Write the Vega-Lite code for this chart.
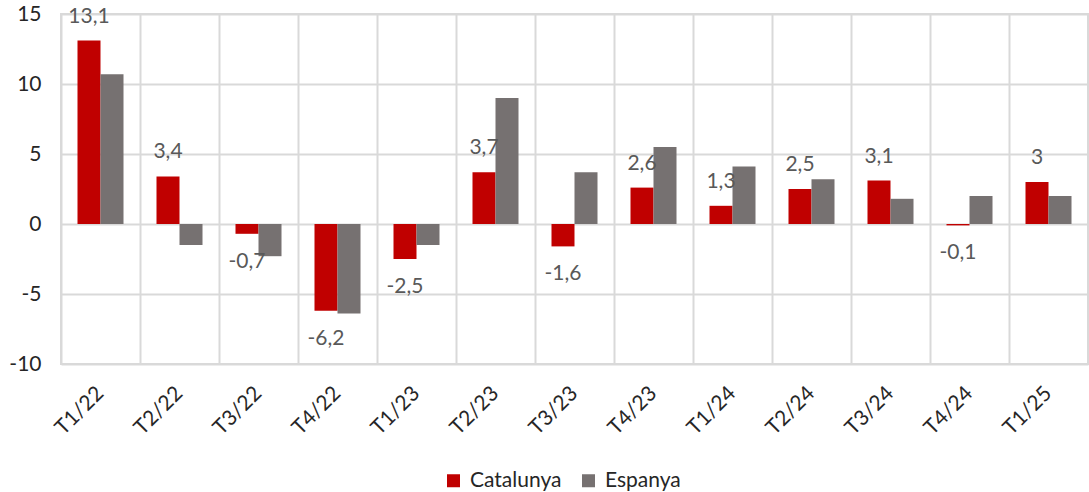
{
  "$schema": "https://vega.github.io/schema/vega-lite/v6.json",
  "width": 1027,
  "height": 350,
  "autosize": {"type": "none"},
  "padding": {"left": 61, "top": 14, "right": 1, "bottom": 128},
  "background": "white",
  "config": {
    "font": "Lato",
    "locale": {"number": {"decimal": ",", "thousands": ".", "grouping": [3], "currency": ["", "€"], "minus": "-"}},
    "view": {"stroke": "#d9d9d9", "strokeWidth": 2},
    "axis": {"gridColor": "#d9d9d9", "gridWidth": 2, "labelFont": "Lato", "labelFontSize": 21, "labelColor": "#262626"}
  },
  "data": {
    "values": [
      {"period": "T1/22", "series": "Catalunya", "value": 13.1},
      {"period": "T1/22", "series": "Espanya", "value": 10.7},
      {"period": "T2/22", "series": "Catalunya", "value": 3.4},
      {"period": "T2/22", "series": "Espanya", "value": -1.5},
      {"period": "T3/22", "series": "Catalunya", "value": -0.7},
      {"period": "T3/22", "series": "Espanya", "value": -2.3},
      {"period": "T4/22", "series": "Catalunya", "value": -6.2},
      {"period": "T4/22", "series": "Espanya", "value": -6.4},
      {"period": "T1/23", "series": "Catalunya", "value": -2.5},
      {"period": "T1/23", "series": "Espanya", "value": -1.5},
      {"period": "T2/23", "series": "Catalunya", "value": 3.7},
      {"period": "T2/23", "series": "Espanya", "value": 9.0},
      {"period": "T3/23", "series": "Catalunya", "value": -1.6},
      {"period": "T3/23", "series": "Espanya", "value": 3.7},
      {"period": "T4/23", "series": "Catalunya", "value": 2.6},
      {"period": "T4/23", "series": "Espanya", "value": 5.5},
      {"period": "T1/24", "series": "Catalunya", "value": 1.3},
      {"period": "T1/24", "series": "Espanya", "value": 4.1},
      {"period": "T2/24", "series": "Catalunya", "value": 2.5},
      {"period": "T2/24", "series": "Espanya", "value": 3.2},
      {"period": "T3/24", "series": "Catalunya", "value": 3.1},
      {"period": "T3/24", "series": "Espanya", "value": 1.8},
      {"period": "T4/24", "series": "Catalunya", "value": -0.1},
      {"period": "T4/24", "series": "Espanya", "value": 2.0},
      {"period": "T1/25", "series": "Catalunya", "value": 3.0},
      {"period": "T1/25", "series": "Espanya", "value": 2.0}
    ]
  },
  "encoding": {
    "x": {"field": "period", "type": "nominal", "sort": null,
      "scale": {"paddingInner": 0, "paddingOuter": 0}},
    "y": {"field": "value", "type": "quantitative",
      "scale": {"domain": [-10, 15], "nice": false, "zero": false}},
    "xOffset": {"field": "series", "type": "nominal",
      "scale": {"domain": ["Catalunya", "Espanya"], "paddingInner": 0, "paddingOuter": 0.717}}
  },
  "layer": [
    {
      "mark": {"type": "bar"},
      "encoding": {
        "x": {"field": "period", "type": "nominal", "sort": null,
          "axis": {"title": null, "grid": false, "ticks": false, "domain": false, "labelAngle": -45, "labelPadding": 26, "labelAlign": "right", "labelBaseline": "middle"}},
        "y": {"field": "value", "type": "quantitative",
          "axis": {"title": null, "values": [-10, -5, 0, 5, 10, 15], "grid": true, "ticks": false, "domain": false, "labelPadding": 20, "format": "d"}},
        "color": {"field": "series", "type": "nominal",
          "scale": {"domain": ["Catalunya", "Espanya"], "range": ["#c00000", "#767171"]},
          "legend": {"title": null, "orient": "none", "legendX": 382, "legendY": 456, "direction": "horizontal",
            "symbolType": "square", "symbolSize": 169, "symbolStrokeWidth": 0, "labelFontSize": 21, "labelColor": "#262626",
            "labelFont": "Lato", "columnPadding": 16, "labelOffset": 6, "padding": 0}}
      }
    },
    {
      "transform": [{"filter": "datum.series === 'Catalunya' && datum.value >= 0"}],
      "mark": {"type": "text", "dy": -24, "fontSize": 21, "color": "#595959", "baseline": "middle", "align": "center"},
      "encoding": {
        "x": {"field": "period", "type": "nominal", "sort": null,
          "axis": {"title": null, "grid": true, "bandPosition": 0, "labels": false, "ticks": false, "domain": false}},
        "text": {"field": "value", "type": "quantitative", "format": ".1~f"}
      }
    },
    {
      "transform": [{"filter": "datum.series === 'Catalunya' && datum.value < 0"}],
      "mark": {"type": "text", "dy": 28, "fontSize": 21, "color": "#595959", "baseline": "middle", "align": "center"},
      "encoding": {
        "x": {"field": "period", "type": "nominal", "sort": null, "axis": null},
        "text": {"field": "value", "type": "quantitative", "format": ".1~f"}
      }
    }
  ],
  "resolve": {"axis": {"x": "independent"}}
}
